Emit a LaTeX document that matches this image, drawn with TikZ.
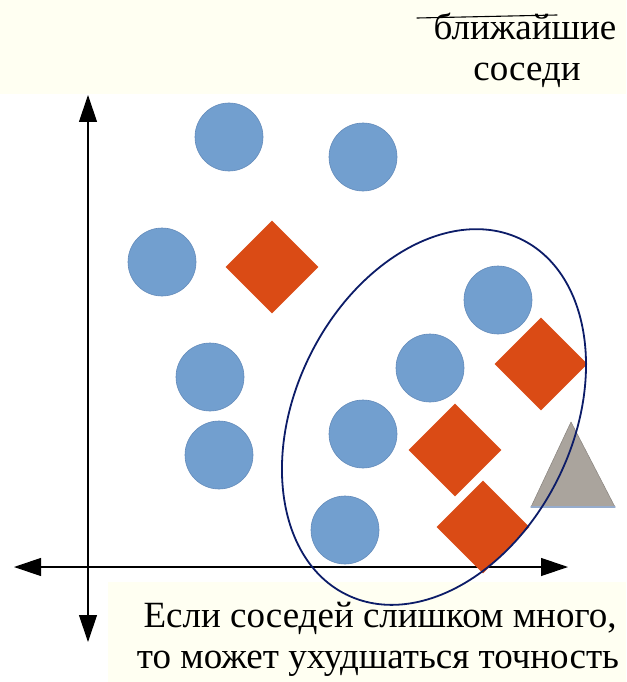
\documentclass[tikz,border=0pt]{standalone}
\usepackage{fontspec}
\setmainfont{Liberation Serif}
\usetikzlibrary{arrows.meta,shapes.geometric}
\definecolor{dotblue}{RGB}{114,159,207}
\definecolor{dotrim}{RGB}{98,138,186}
\definecolor{gemred}{RGB}{218,75,21}
\definecolor{trigray}{RGB}{170,164,157}
\definecolor{tririm}{RGB}{150,172,205}
\definecolor{hullblue}{RGB}{12,28,104}
\definecolor{paper}{RGB}{255,255,242}
\tikzset{
    lab/.style={
        font=\fontsize{37}{41}\selectfont
    }
}

\begin{document}
\begin{tikzpicture}[x=1pt,y=-1pt, line cap=round, line join=round]

\tikzset{
  axis/.style={draw=black, line width=1.2pt, {Triangle[length=27pt,width=18pt]}-{Triangle[length=27pt,width=18pt]}},
  dot/.style={circle, draw=dotrim, fill=dotblue, line width=0.6pt, minimum size=68pt, inner sep=0pt},
  gem/.style={diamond, fill=gemred, minimum width=93pt, minimum height=93pt, inner sep=0pt},
  hull/.style={draw=hullblue, line width=1.8pt},
}

% page and text panels
\useasboundingbox (0,0) rectangle (626,682);
\fill[white] (0,0) rectangle (626,682);
\fill[paper] (0,0) rectangle (626,94);
\fill[paper] (108,582) rectangle (626,682);

% axes
\coordinate (xl) at (14,567);
\coordinate (xr) at (568,567);
\coordinate (yt) at (88,95);
\coordinate (yb) at (88,642);
\draw[axis] (xl) -- (xr);
\draw[axis] (yt) -- (yb);

% class A
\node[dot] (a1) at (229,137) {};
\node[dot] (a2) at (363,157) {};
\node[dot] (a3) at (162,262) {};
\node[dot] (a4) at (210,377) {};
\node[dot] (a5) at (219,455) {};
\node[dot] (a6) at (498,300) {};
\node[dot] (a7) at (430,368) {};
\node[dot] (a8) at (363,434) {};
\node[dot] (a9) at (345,530) {};

% class B
\node[gem] (b1) at (272,267) {};
\node[gem] (b2) at (541,364) {};
\node[gem] (b3) at (455,450) {};
\node[gem] (b4) at (483,527) {};

% query point
\coordinate (qa) at (571,422);
\coordinate (ql) at (531,507);
\coordinate (qr) at (615,507);
\filldraw[fill=trigray, draw=trigray!80!black, line width=0.5pt] (qa) -- (ql) -- (qr) -- cycle;
\draw[tririm, line width=1.2pt] (ql) -- (qr);

% neighbourhood
\coordinate (hc) at (434,417);
\draw[hull, rotate around={63.7:(hc)}] (hc) ellipse (198pt and 138.5pt);

% labels
\node[lab, anchor=base] (t1) at (525,40) {ближайшие};
\node[lab, anchor=base] (t2) at (527,81) {соседи};
\draw[line width=1.1pt] (417,18) -- (557,15);

\node[lab, anchor=base] (n1) at (380,627) {Если соседей слишком много,};
\node[lab, anchor=base] (n2) at (378,668) {то может ухудшаться точность};

\end{tikzpicture}
\end{document}
